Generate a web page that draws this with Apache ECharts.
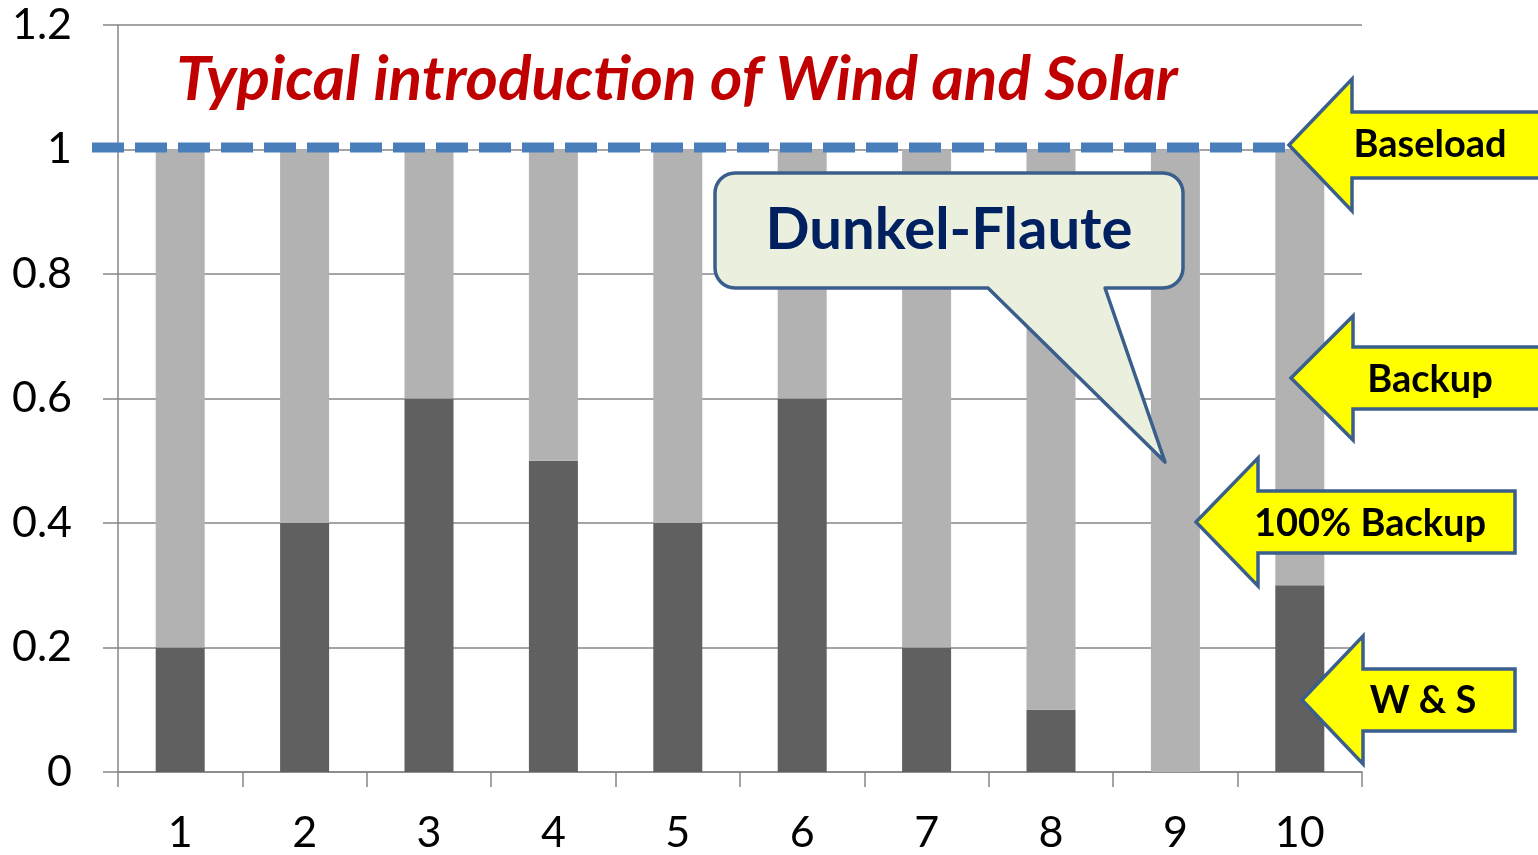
<!DOCTYPE html>
<html>
<head>
<meta charset="utf-8">
<script src="https://cdn.jsdelivr.net/npm/echarts@6/dist/echarts.min.js"></script>
<style>html,body{margin:0;padding:0;background:#fff}#c{width:1538px;height:855px}</style>
</head>
<body>
<div id="c"></div>
<script>
var categories = ['1','2','3','4','5','6','7','8','9','10'];
var windSolar = [0.2, 0.4, 0.6, 0.5, 0.4, 0.6, 0.2, 0.1, 0, 0.3];
var backup = [0.8, 0.6, 0.4, 0.5, 0.6, 0.4, 0.8, 0.9, 1, 0.7];
var baseload = 1;
var yTicks = {min: 0, max: 1.2, interval: 0.2};

var FONT = 'Lato, "Open Sans", sans-serif';
var chart = echarts.init(document.getElementById('c'));
var axisGray = '#868686';

chart.setOption({
  animation: false,
  grid: {left: 118, right: 176, top: 25, bottom: 83},
  xAxis: {
    type: 'category', data: categories,
    axisLine: {lineStyle: {color: axisGray, width: 1.5}},
    axisTick: {show: true, length: 15, lineStyle: {color: axisGray, width: 1.5}},
    axisLabel: {color: '#000', fontSize: 43, fontFamily: FONT, margin: 40}
  },
  yAxis: {
    type: 'value', min: yTicks.min, max: yTicks.max, interval: yTicks.interval,
    axisLine: {show: true, lineStyle: {color: axisGray, width: 1.5}},
    axisTick: {show: true, length: 15, lineStyle: {color: axisGray, width: 1.5}},
    splitLine: {lineStyle: {color: axisGray, width: 1.5}},
    axisLabel: {color: '#000', fontSize: 43, fontFamily: FONT, margin: 46}
  },
  series: [
    {name: 'W & S', type: 'bar', stack: 's', data: windSolar, barWidth: 49,
     itemStyle: {color: '#606060'}},
    {name: 'Backup', type: 'bar', stack: 's', data: backup, barWidth: 49,
     itemStyle: {color: '#b2b2b2'}}
  ]
});

var yBase = chart.convertToPixel({yAxisIndex: 0}, baseload) - 2;
var stroke = '#3b5f8c';
function arrow(tx, ty, hx, hh, sh, rx) {
  return {
    type: 'polygon', z: 100,
    shape: {points: [[tx, ty], [hx, ty - hh], [hx, ty - sh], [rx, ty - sh], [rx, ty + sh], [hx, ty + sh], [hx, ty + hh]]},
    style: {fill: '#ffff00', stroke: stroke, lineWidth: 3.5, lineJoin: 'miter'}
  };
}
function label(text, x, y, size) {
  return {type: 'text', z: 101, style: {text: text, x: x, y: y, fill: '#000', font: 'bold ' + size + 'px ' + FONT, align: 'center', verticalAlign: 'middle'}};
}
function arcPts(cx, cy, r, a0, a1) {
  var pts = [], n = 8;
  for (var i = 0; i <= n; i++) {
    var a = a0 + (a1 - a0) * i / n;
    pts.push([cx + r * Math.cos(a), cy + r * Math.sin(a)]);
  }
  return pts;
}
var L = 715, R = 1183, T = 173, B = 288, r = 20, P = Math.PI;
var callout = [].concat(
  arcPts(L + r, T + r, r, P, 1.5 * P),
  arcPts(R - r, T + r, r, 1.5 * P, 2 * P),
  arcPts(R - r, B - r, r, 0, 0.5 * P),
  [[1105, B], [1165, 462], [988, B]],
  arcPts(L + r, B - r, r, 0.5 * P, P)
);

chart.setOption({
  graphic: [
    {type: 'line', z: 100, shape: {x1: 92, y1: yBase, x2: 1292, y2: yBase},
     style: {stroke: '#4a7ebb', lineWidth: 10, lineDash: [32, 11]}},
    {type: 'text', z: 100, style: {text: 'Typical introduction of Wind and Solar', x: 677, y: 80,
      fill: '#c00000', font: 'italic bold 62px ' + FONT, align: 'center', verticalAlign: 'middle'}},
    {type: 'polygon', z: 102, shape: {points: callout},
     style: {fill: '#ebf0de', stroke: stroke, lineWidth: 3.5, lineJoin: 'round'}},
    {type: 'text', z: 103, style: {text: 'Dunkel-Flaute', x: 949, y: 230, fill: '#002060',
      font: 'bold 58px ' + FONT, align: 'center', verticalAlign: 'middle'}},
    arrow(1289, 145, 1352, 66, 33, 1541),
    label('Baseload', 1430, 145, 38),
    arrow(1291, 378, 1353, 62, 31, 1541),
    label('Backup', 1430, 380, 38),
    arrow(1196, 522, 1258, 64, 31, 1515),
    label('100% Backup', 1370, 524, 38),
    arrow(1302, 700, 1363, 64, 31, 1515),
    label('W & S', 1423, 701, 38)
  ]
});
</script>
</body>
</html>
